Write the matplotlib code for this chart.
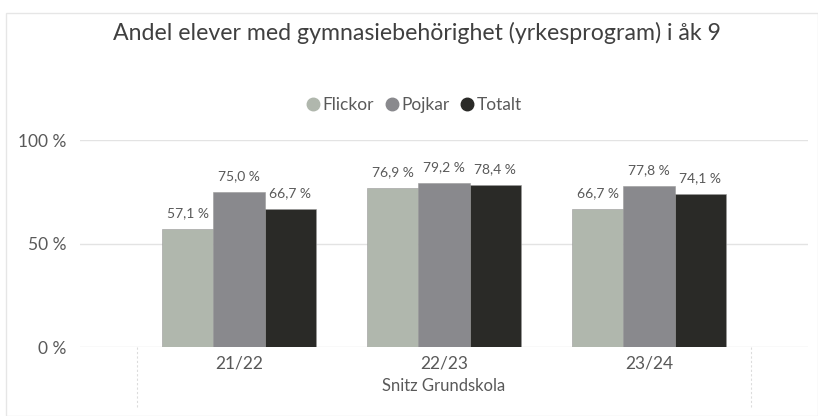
import matplotlib
matplotlib.use("Agg")
import matplotlib.pyplot as plt
from matplotlib.patches import Rectangle
from matplotlib.lines import Line2D
import matplotlib.transforms as mtransforms

plt.rcParams['font.family'] = ['Lato', 'DejaVu Sans']

categories = ["21/22", "22/23", "23/24"]
series_names = ["Flickor", "Pojkar", "Totalt"]
flickor = [57.1, 76.9, 66.7]
pojkar = [75.0, 79.2, 77.8]
totalt = [66.7, 78.4, 74.1]
yticks = [0, 50, 100]
ytick_labels = ["0 %", "50 %", "100 %"]

colors = ["#b0b7ad", "#89898d", "#2a2a27"]
text_color = "#595959"

W, H = 818, 416
fig = plt.figure(figsize=(W / 100, H / 100), dpi=100)
fig.patch.set_facecolor("white")

# outer light frame
fig.patches.append(Rectangle((6 / W, 0), 1 - 6 / W, 1 - 13 / H, transform=fig.transFigure,
                             fill=False, edgecolor="#e6e6e6", linewidth=1.0))

left_px, right_px, top_px, bottom_px = 80, 808, 140, 347
ax = fig.add_axes([left_px / W, 1 - bottom_px / H, (right_px - left_px) / W, (bottom_px - top_px) / H])

bw = 0.25
all_series = [flickor, pojkar, totalt]
for i, vals in enumerate(all_series):
    xs = [c + (i - 1) * bw for c in range(len(categories))]
    ax.bar(xs, vals, width=bw, color=colors[i], edgecolor="#9a9a9a", linewidth=0.4, zorder=3)
    for x, v in zip(xs, vals):
        ax.annotate(f"{v:.1f} %".replace(".", ","), (x, v), xytext=(0, 7), textcoords="offset points",
                    ha="center", va="bottom", fontsize=10, color=text_color)

ax.set_ylim(0, 100)
ax.set_xlim(-0.776, 2.776)
ax.set_yticks(yticks)
ax.set_yticklabels(ytick_labels, fontsize=12.5, color=text_color)
ax.set_xticks(range(len(categories)))
ax.set_xticklabels(categories, fontsize=12.5, color=text_color)
ax.tick_params(axis="both", length=0)
ax.tick_params(axis="y", pad=10)
ax.tick_params(axis="x", pad=6)
ax.grid(axis="y", color="#e3e3e3", linewidth=1.0, zorder=0)
for s in ax.spines.values():
    s.set_visible(False)

# dotted category boundary lines below axis
trans = mtransforms.blended_transform_factory(ax.transData, ax.transAxes)
for xb in [-0.5, 2.5]:
    ax.add_line(Line2D([xb, xb], [0, -0.3], transform=trans, color="#dcdcdc", linewidth=0.8,
                       linestyle=(0, (2, 2)), clip_on=False))

ax.set_xlabel("Snitz Grundskola", fontsize=12, color=text_color, labelpad=5)

fig.text(417 / W, 1 - 40 / H, "Andel elever med gymnasiebehörighet (yrkesprogram) i åk 9",
         ha="center", va="baseline", fontsize=16.7, color="#404040")

handles = [Line2D([], [], marker="o", linestyle="none", markersize=9, markerfacecolor=c,
                  markeredgecolor=c) for c in colors]
fig.legend(handles, series_names, loc="center", bbox_to_anchor=(413 / W, 1 - 105 / H), ncol=3,
           frameon=False, fontsize=12.5, labelcolor=text_color, handletextpad=0.05,
           columnspacing=0.5, handlelength=1.0)

fig.savefig("out.png", dpi=100, facecolor="white")
